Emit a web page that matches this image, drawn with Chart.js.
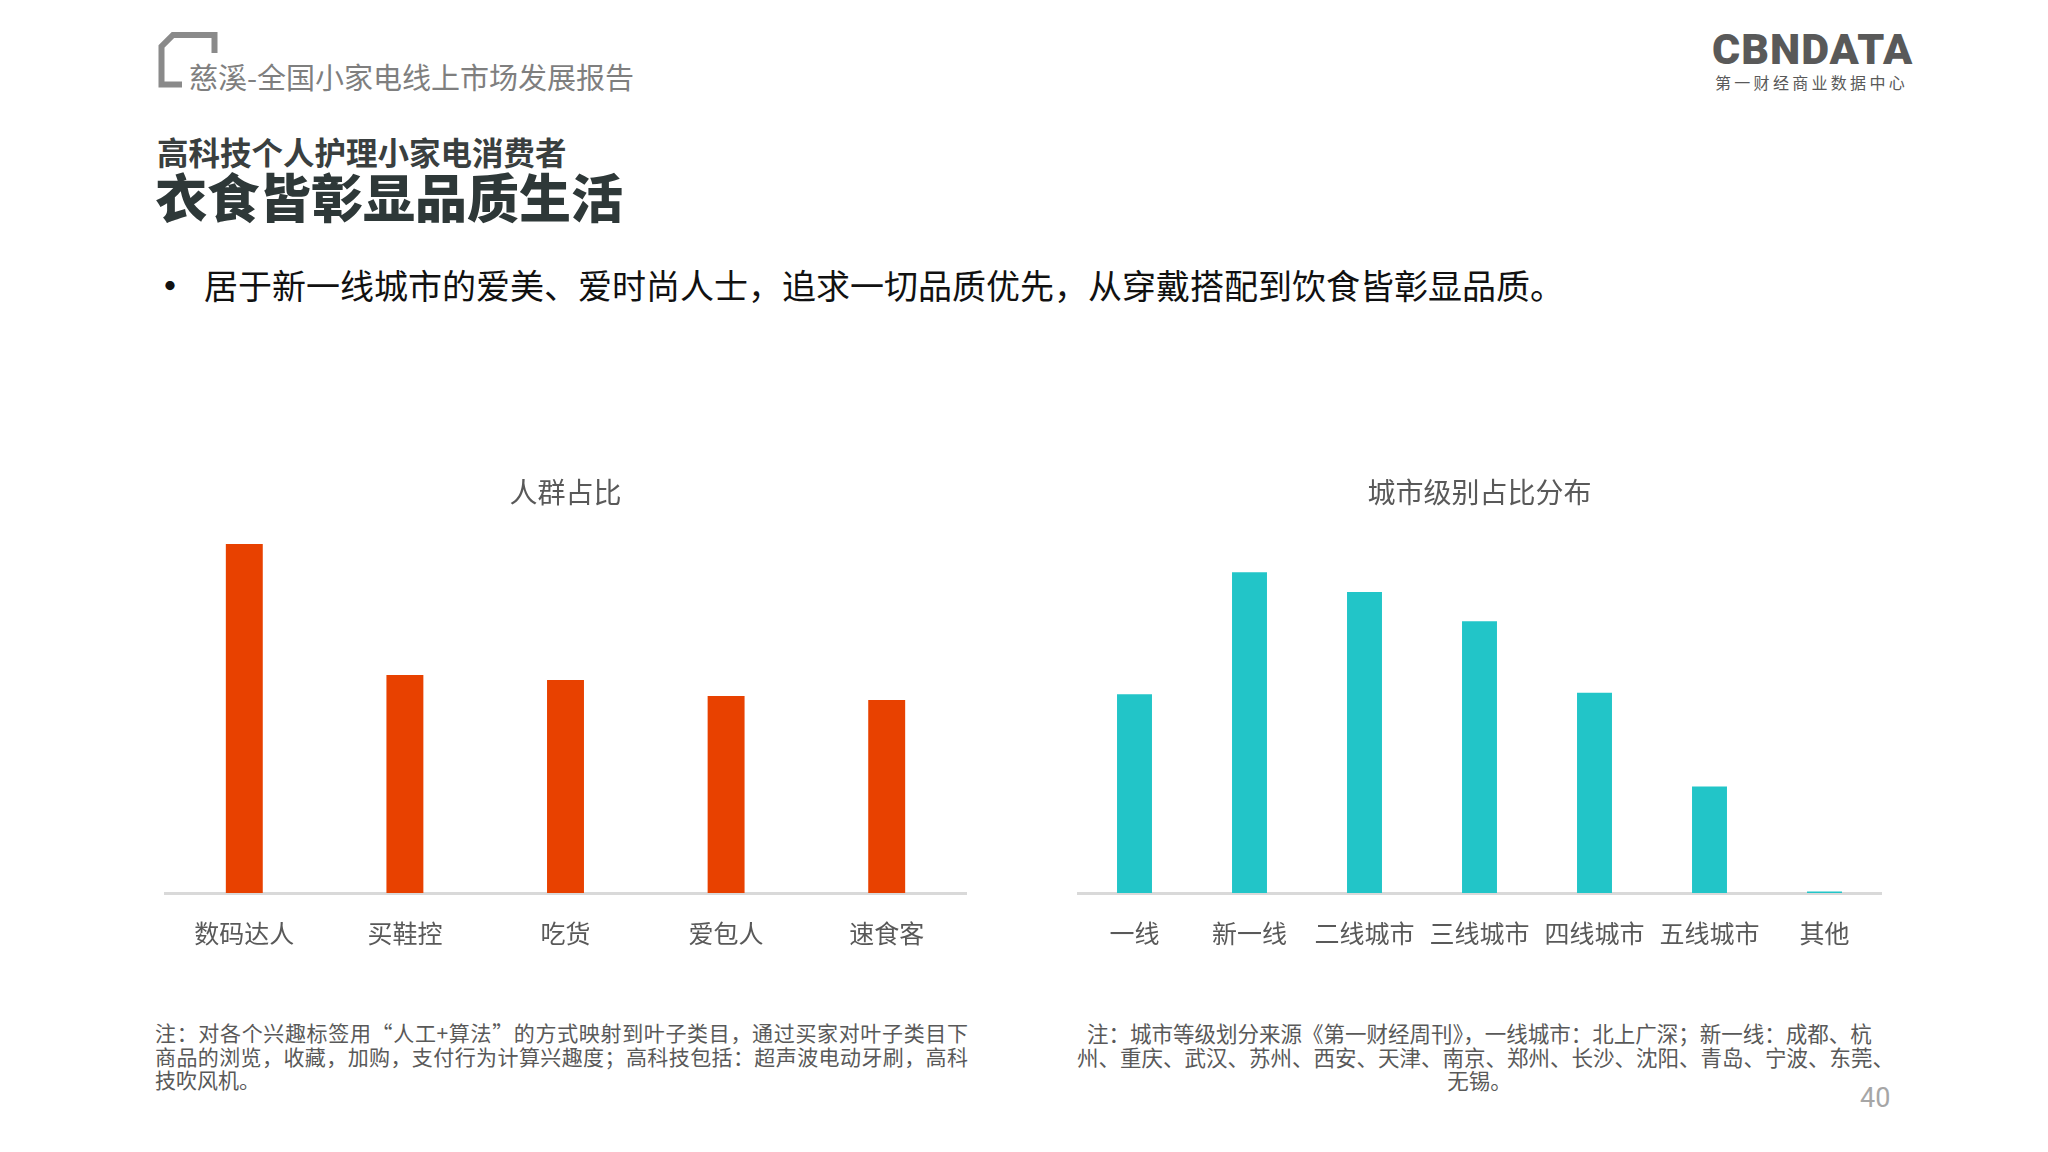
<!DOCTYPE html>
<html>
<head>
<meta charset="utf-8">
<script src="https://cdn.jsdelivr.net/npm/chart.js@4/dist/chart.umd.min.js"></script>
<style>
  html, body { margin:0; padding:0; background:#fff; }
  body { width:2048px; height:1152px; position:relative; overflow:hidden; font-family:"Noto Sans CJK SC","Noto Sans",sans-serif; }
  .t { position:absolute; white-space:nowrap; }
  .cv { position:absolute; }
</style>
</head>
<body>
<svg class="t" style="left:0;top:0" width="260" height="100">
  <path d="M 214.5 53 V 35 H 173 L 161.5 46.5 V 84.5 H 182" fill="none" stroke="#8A8A8A" stroke-width="6" stroke-linejoin="miter"/>
</svg>
<div class="t" style="left:189px;top:60px;font-size:29px;line-height:33px;color:#7F7F7F;">慈溪-全国小家电线上市场发展报告</div>

<div class="t" style="left:1712px;top:27px;font-family:Roboto,'DejaVu Sans',sans-serif;font-weight:900;font-size:43px;line-height:44px;letter-spacing:1px;color:#595959;">CBNDATA</div>
<div class="t" style="left:1715px;top:72px;font-size:16px;line-height:20px;letter-spacing:3.3px;color:#595959;">第一财经商业数据中心</div>

<div class="t" style="left:157px;top:134px;font-size:31.5px;line-height:34px;font-weight:700;color:#3A3F3F;">高科技个人护理小家电消费者</div>
<div class="t" style="left:155px;top:166px;font-size:52px;line-height:60px;font-weight:900;color:#2E3838;">衣食皆彰显品质生活</div>

<div class="t" style="left:152px;top:264px;font-size:36px;line-height:40px;font-weight:700;color:#111;">•</div>
<div class="t" style="left:204px;top:266px;font-size:34px;line-height:38px;color:#111;">居于新一线城市的爱美、爱时尚人士，追求一切品质优先，从穿戴搭配到饮食皆彰显品质。</div>

<canvas id="c1" class="cv" style="left:164px;top:460px;width:803px;height:526px;" width="803" height="526"></canvas>
<canvas id="c2" class="cv" style="left:1077px;top:460px;width:805px;height:526px;" width="805" height="526"></canvas>

<div class="t" style="left:155px;top:1021px;width:813px;font-size:21px;line-height:23.5px;color:#595959;">
  <div style="text-align:justify;text-align-last:justify;">注：对各个兴趣标签用“人工+算法”的方式映射到叶子类目，通过买家对叶子类目下</div>
  <div style="text-align:justify;text-align-last:justify;">商品的浏览，收藏，加购，支付行为计算兴趣度；高科技包括：超声波电动牙刷，高科</div>
  <div>技吹风机。</div>
</div>
<div class="t" style="left:1077px;top:1021px;width:805px;font-size:21.5px;line-height:23.5px;color:#595959;text-align:center;">
  <div>注：城市等级划分来源《第一财经周刊》，一线城市：北上广深；新一线：成都、杭</div>
  <div>州、重庆、武汉、苏州、西安、天津、南京、郑州、长沙、沈阳、青岛、宁波、东莞、</div>
  <div>无锡。</div>
</div>
<div class="t" style="left:1860px;top:1083px;font-family:Roboto,sans-serif;font-size:27px;line-height:30px;color:#A6A6A6;">40</div>

<script>
const leftTitle = '人群占比';
const leftCategories = ['数码达人', '买鞋控', '吃货', '爱包人', '速食客'];
const leftValues = [34.9, 21.8, 21.3, 19.7, 19.3];
const leftMax = 36.44;

const rightTitle = '城市级别占比分布';
const rightCategories = ['一线', '新一线', '二线城市', '三线城市', '四线城市', '五线城市', '其他'];
const rightValues = [14.2, 22.9, 21.5, 19.4, 14.3, 7.6, 0.1];
const rightMax = 26.02;

const FONT = '"Noto Sans CJK SC", "Noto Sans", sans-serif';

function makeChart(id, title, labels, values, color, yMax, barPct) {
  return new Chart(document.getElementById(id), {
    type: 'bar',
    data: {
      labels: labels,
      datasets: [{ data: values, backgroundColor: color, borderWidth: 0,
                   categoryPercentage: 1, barPercentage: barPct }]
    },
    options: {
      responsive: false,
      animation: false,
      layout: { padding: { left: 0, right: 0, top: 0, bottom: 13 } },
      plugins: {
        legend: { display: false },
        tooltip: { enabled: false },
        title: { display: true, text: title, color: '#595959',
                 font: { family: FONT, size: 28, weight: 'normal' },
                 padding: { top: 16, bottom: 19 } }
      },
      scales: {
        x: {
          grid: { display: false, drawTicks: false },
          border: { display: true, color: '#D9D9D9', width: 3 },
          ticks: { color: '#595959', padding: 25, font: { family: FONT, size: 25 }, maxRotation: 0, autoSkip: false }
        },
        y: { display: false, min: 0, max: yMax }
      }
    }
  });
}

makeChart('c1', leftTitle, leftCategories, leftValues, '#E84100', leftMax, 0.23);
makeChart('c2', rightTitle, rightCategories, rightValues, '#22C5C8', rightMax, 0.304);
</script>
</body>
</html>
